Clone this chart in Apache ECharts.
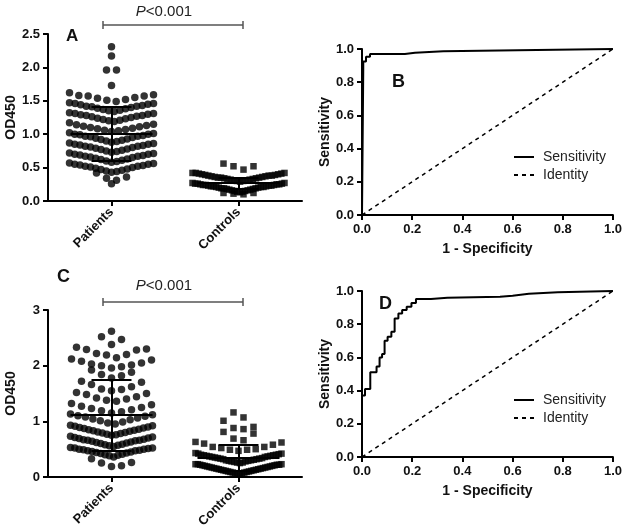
<!DOCTYPE html>
<html>
<head>
<meta charset="utf-8">
<script src="https://cdn.jsdelivr.net/npm/echarts@6/dist/echarts.min.js"></script>
<style>html,body{margin:0;padding:0;background:#fff}#c{width:625px;height:531px}</style>
</head>
<body>
<div id="c"></div>
<script>
// ---------------- DATA ----------------
const groups = ['Patients', 'Controls'];

// Panel A: OD450 values
const aPatients = [
  2.31, 2.17, 1.96, 1.96, 1.73,
  1.49, 1.51, 1.52, 1.54, 1.55, 1.57, 1.57, 1.58, 1.59, 1.62,
  1.34, 1.35, 1.36, 1.37, 1.38, 1.39, 1.40, 1.41, 1.42, 1.42, 1.43, 1.44, 1.45, 1.46, 1.46, 1.47,
  1.19, 1.20, 1.21, 1.22, 1.23, 1.24, 1.25, 1.26, 1.27, 1.28, 1.28, 1.29, 1.30, 1.31, 1.31, 1.32,
  1.04, 1.05, 1.06, 1.07, 1.08, 1.09, 1.10, 1.11, 1.12, 1.13, 1.14, 1.15, 1.17,
  0.88, 0.89, 0.90, 0.91, 0.92, 0.93, 0.94, 0.95, 0.96, 0.97, 0.97, 0.98, 0.99, 1.00, 1.00, 1.01, 1.02,
  0.73, 0.74, 0.75, 0.76, 0.77, 0.78, 0.79, 0.80, 0.81, 0.82, 0.82, 0.83, 0.84, 0.85, 0.85, 0.86, 0.87,
  0.58, 0.59, 0.60, 0.61, 0.62, 0.63, 0.64, 0.65, 0.66, 0.67, 0.67, 0.68, 0.69, 0.70, 0.70, 0.71, 0.72,
  0.43, 0.44, 0.45, 0.46, 0.47, 0.48, 0.49, 0.50, 0.51, 0.52, 0.52, 0.53, 0.54, 0.55, 0.55, 0.56, 0.57,
  0.31, 0.34, 0.36, 0.42, 0.26
];
const aControls = [
  0.47, 0.52, 0.52, 0.56,
  0.29, 0.30, 0.30, 0.31, 0.31, 0.32, 0.32, 0.33, 0.33, 0.34, 0.34, 0.35, 0.35, 0.35, 0.36,
  0.36, 0.37, 0.37, 0.38, 0.38, 0.38, 0.39, 0.39, 0.40, 0.40, 0.41, 0.41, 0.42, 0.42, 0.42,
  0.13, 0.14, 0.14, 0.15, 0.15, 0.16, 0.16, 0.17, 0.17, 0.18, 0.18, 0.19, 0.19, 0.19, 0.20,
  0.20, 0.21, 0.21, 0.21, 0.22, 0.22, 0.22, 0.23, 0.23, 0.23, 0.24, 0.24, 0.24, 0.25, 0.25,
  0.25, 0.26, 0.26, 0.26, 0.27, 0.27,
  0.10, 0.11, 0.12, 0.12
];
const aMean = [1.01, 0.27];
const aSD = [0.40, 0.08];

// Panel C: OD450 values
const cPatients = [
  2.62,
  2.38, 2.47, 2.52,
  2.14, 2.19, 2.20, 2.22, 2.28, 2.29, 2.30, 2.33,
  1.96, 1.98, 2.00, 2.01, 2.03, 2.05, 2.08, 2.10, 2.12,
  1.78, 1.82, 1.84, 1.88, 1.92,
  1.55, 1.57, 1.58, 1.62, 1.66, 1.70, 1.72,
  1.36, 1.38, 1.40, 1.42, 1.44, 1.48, 1.50, 1.52,
  1.15, 1.17, 1.19, 1.21, 1.23, 1.25, 1.27, 1.30, 1.32,
  0.95, 0.97, 0.99, 1.01, 1.03, 1.04, 1.06, 1.08, 1.09, 1.10, 1.12, 1.13,
  0.75, 0.76, 0.77, 0.78, 0.79, 0.80, 0.81, 0.82, 0.83, 0.84, 0.85, 0.86, 0.87, 0.88, 0.89, 0.90, 0.91, 0.92, 0.93,
  0.55, 0.56, 0.57, 0.58, 0.59, 0.60, 0.61, 0.62, 0.63, 0.64, 0.65, 0.66, 0.66, 0.67, 0.68, 0.69, 0.70, 0.71, 0.72, 0.73,
  0.36, 0.38, 0.39, 0.40, 0.41, 0.42, 0.43, 0.44, 0.45, 0.46, 0.47, 0.47, 0.48, 0.49, 0.50, 0.50, 0.51, 0.52, 0.52, 0.53,
  0.19, 0.20, 0.25, 0.26, 0.33
];
const cControls = [
  1.07, 1.16,
  0.86, 0.88, 0.90, 1.01,
  0.66, 0.69, 0.78, 0.81,
  0.47, 0.49, 0.49, 0.50, 0.52, 0.54, 0.54, 0.58, 0.60, 0.62, 0.63,
  0.25, 0.26, 0.26, 0.27, 0.28, 0.28, 0.29, 0.29, 0.30, 0.30, 0.31, 0.32, 0.32, 0.33, 0.33, 0.34,
  0.34, 0.35, 0.36, 0.36, 0.37, 0.37, 0.38, 0.38, 0.39, 0.39, 0.40, 0.40, 0.41, 0.42, 0.42, 0.43,
  0.05, 0.06, 0.06, 0.07, 0.08, 0.08, 0.09, 0.09, 0.10, 0.10, 0.11, 0.11, 0.12, 0.12, 0.13, 0.13,
  0.14, 0.14, 0.15, 0.15, 0.16, 0.16, 0.17, 0.17, 0.18, 0.18, 0.19, 0.19, 0.20, 0.20, 0.21, 0.21,
  0.22, 0.22, 0.22, 0.23, 0.23, 0.23
];
const cMean = [1.11, 0.35];
const cSD = [0.63, 0.23];

// Panel B ROC (step corners)
const bFPR = [0, 0.005, 0.005, 0.016, 0.032, 0.171, 0.211, 0.324, 0.62, 1.0];
const bTPR = [0, 0.878, 0.924, 0.954, 0.970, 0.978, 0.986, 0.993, 1.0, 1.0];
// Panel D ROC (step corners)
const dFPR = [0, 0, 0.012, 0.033, 0.058, 0.070, 0.080, 0.090, 0.102, 0.117, 0.130, 0.145, 0.160, 0.178, 0.197, 0.215, 0.275, 0.340, 0.550, 0.600, 0.665, 0.780, 1.0];
const dTPR = [0, 0.37, 0.41, 0.51, 0.545, 0.60, 0.62, 0.70, 0.725, 0.755, 0.835, 0.865, 0.885, 0.905, 0.928, 0.952, 0.960, 0.965, 0.972, 0.983, 0.993, 1.0, 1.0];
const identity = [[0, 0], [1, 1]];
const legendNames = ['Sensitivity', 'Identity'];

// ---------------- LAYOUT HELPERS ----------------
const FONT = '"Liberation Sans", Arial, Helvetica, sans-serif';
const PX_PER_X = 254 / 2; // px per category unit on the dot-plot panels

// GraphPad-like column scatter: bin values in rows, spread each row from center outward
function swarm(values, center, binOrigin, binWidth, maxHalfPx, maxStepPx) {
  const bins = {};
  values.forEach(v => {
    const k = Math.floor((v - binOrigin) / binWidth + 1e-9);
    (bins[k] = bins[k] || []).push(v);
  });
  const out = [];
  Object.keys(bins).forEach(k => {
    const arr = bins[k].slice().sort((a, b) => a - b);
    const n = arr.length;
    const step = n > 1 ? Math.min(maxStepPx, 2 * maxHalfPx / (n - 1)) : 0;
    arr.forEach((v, i) => {
      let slot;
      if (n % 2 === 1) slot = i === 0 ? 0 : (i % 2 === 1 ? Math.ceil(i / 2) : -Math.ceil(i / 2));
      else { const m = Math.floor(i / 2) + 0.5; slot = i % 2 === 0 ? m : -m; }
      out.push([center + slot * step / PX_PER_X, v]);
    });
  });
  return out;
}

function meanSdLines(means, sds) {
  const meanHalf = 41 / PX_PER_X, capHalf = 20 / PX_PER_X;
  const segs = [];
  means.forEach((m, i) => {
    const c = i + 1, s = sds[i];
    segs.push({ coords: [[c - meanHalf, m], [c + meanHalf, m]] });
    segs.push({ coords: [[c, m - s], [c, m + s]] });
    segs.push({ coords: [[c - capHalf, m + s], [c + capHalf, m + s]] });
    segs.push({ coords: [[c - capHalf, m - s], [c + capHalf, m - s]] });
  });
  return segs;
}

const axisLine = { show: true, lineStyle: { color: '#000', width: 2 } };
const axisTick = { show: true, length: 5, lineStyle: { color: '#000', width: 2 } };
const tickLabel = { color: '#111', fontSize: 13, fontWeight: 'bold', fontFamily: FONT };
const nameStyle = { color: '#111', fontSize: 14, fontWeight: 'bold', fontFamily: FONT };

function catAxis(grid) {
  return {
    type: 'category', gridIndex: grid, data: groups, boundaryGap: true,
    axisLine, axisTick: Object.assign({ alignWithLabel: true }, axisTick),
    axisLabel: Object.assign({ rotate: 45, margin: 9 }, tickLabel),
    splitLine: { show: false }
  };
}
function hiddenX(grid) {
  return { type: 'value', gridIndex: grid, min: 0.5, max: 2.5, show: false, splitLine: { show: false } };
}
function rocX(grid) {
  return {
    type: 'value', gridIndex: grid, min: 0, max: 1, interval: 0.2,
    name: '1 - Specificity', nameLocation: 'middle', nameGap: 27, nameTextStyle: nameStyle,
    axisLine, axisTick, axisLabel: Object.assign({ formatter: v => v.toFixed(1), margin: 8 }, tickLabel),
    splitLine: { show: false }
  };
}
function rocY(grid) {
  return {
    type: 'value', gridIndex: grid, min: 0, max: 1, interval: 0.2,
    name: 'Sensitivity', nameLocation: 'middle', nameGap: 27, nameTextStyle: nameStyle,
    axisLine, axisTick, axisLabel: Object.assign({ formatter: v => v.toFixed(1), margin: 8 }, tickLabel),
    splitLine: { show: false }
  };
}
function legendAt(top) {
  return {
    left: 509, top: top, orient: 'vertical', itemWidth: 20, itemHeight: 2, itemGap: 4,
    data: [
      { name: legendNames[0], icon: 'path://M0,0h20v2h-20z' },
      { name: legendNames[1], icon: 'path://M0,0h4v2h-4zM8,0h4v2h-4zM16,0h4v2h-4z' }
    ],
    textStyle: { fontSize: 14, fontFamily: FONT, color: '#222', padding: [0, 0, 0, 4] }
  };
}

const pairs = (xs, ys) => xs.map((x, i) => [x, ys[i]]);

const option = {
  animation: false,
  backgroundColor: '#fff',
  grid: [
    { left: 48, top: 34, width: 254, height: 167 },
    { left: 362, top: 49, width: 251, height: 166 },
    { left: 48, top: 310, width: 254, height: 167 },
    { left: 362, top: 291, width: 251, height: 166 }
  ],
  xAxis: [catAxis(0), hiddenX(0), rocX(1), catAxis(2), hiddenX(2), rocX(3)],
  yAxis: [
    { type: 'value', gridIndex: 0, min: 0, max: 2.5, interval: 0.5,
      name: 'OD450', nameLocation: 'middle', nameGap: 30, nameTextStyle: nameStyle,
      axisLine, axisTick, axisLabel: Object.assign({ formatter: v => v.toFixed(1), margin: 8 }, tickLabel),
      splitLine: { show: false } },
    rocY(1),
    { type: 'value', gridIndex: 2, min: 0, max: 3, interval: 1,
      name: 'OD450', nameLocation: 'middle', nameGap: 30, nameTextStyle: nameStyle,
      axisLine, axisTick, axisLabel: Object.assign({ margin: 8 }, tickLabel),
      splitLine: { show: false } },
    rocY(3)
  ],
  legend: [legendAt(145), legendAt(388)],
  series: [
    // Panel A
    { type: 'scatter', name: 'A Patients', xAxisIndex: 1, yAxisIndex: 0, symbol: 'circle', symbolSize: 7.5,
      itemStyle: { color: '#000' }, data: swarm(aPatients, 1, 0.43, 0.15, 42, 10) },
    { type: 'scatter', name: 'A Controls', xAxisIndex: 1, yAxisIndex: 0, symbol: 'rect', symbolSize: 6.5,
      itemStyle: { color: '#000' }, data: swarm(aControls, 2, 0.43, 0.15, 46, 10) },
    { type: 'lines', name: 'A mean SD', coordinateSystem: 'cartesian2d', xAxisIndex: 1, yAxisIndex: 0, z: 5,
      lineStyle: { color: '#000', width: 2, opacity: 1 }, data: meanSdLines(aMean, aSD) },
    // Panel C
    { type: 'scatter', name: 'C Patients', xAxisIndex: 4, yAxisIndex: 2, symbol: 'circle', symbolSize: 7.5,
      itemStyle: { color: '#000' }, data: swarm(cPatients, 1, 0.34, 0.2, 41, 10) },
    { type: 'scatter', name: 'C Controls', xAxisIndex: 4, yAxisIndex: 2, symbol: 'rect', symbolSize: 6.5,
      itemStyle: { color: '#000' }, data: swarm(cControls, 2, 0.04, 0.2, 43, 10) },
    { type: 'lines', name: 'C mean SD', coordinateSystem: 'cartesian2d', xAxisIndex: 4, yAxisIndex: 2, z: 5,
      lineStyle: { color: '#000', width: 2, opacity: 1 }, data: meanSdLines(cMean, cSD) },
    // Panel B
    { type: 'line', name: legendNames[0], xAxisIndex: 2, yAxisIndex: 1, step: 'end', symbol: 'none',
      lineStyle: { color: '#000', width: 2 }, itemStyle: { color: '#000' }, data: pairs(bFPR, bTPR) },
    { type: 'line', name: legendNames[1], xAxisIndex: 2, yAxisIndex: 1, symbol: 'none',
      lineStyle: { color: '#000', width: 1.5, type: [4, 4] }, itemStyle: { color: '#000' }, data: identity },
    // Panel D
    { type: 'line', name: legendNames[0], xAxisIndex: 5, yAxisIndex: 3, step: 'end', symbol: 'none',
      lineStyle: { color: '#000', width: 2 }, itemStyle: { color: '#000' }, data: pairs(dFPR, dTPR) },
    { type: 'line', name: legendNames[1], xAxisIndex: 5, yAxisIndex: 3, symbol: 'none',
      lineStyle: { color: '#000', width: 1.5, type: [4, 4] }, itemStyle: { color: '#000' }, data: identity }
  ],
  graphic: [
    // significance brackets
    { type: 'polyline', shape: { points: [[103, 21], [103, 29]] }, style: { stroke: '#555', lineWidth: 1.5 } },
    { type: 'polyline', shape: { points: [[103, 25], [243, 25]] }, style: { stroke: '#555', lineWidth: 1.5 } },
    { type: 'polyline', shape: { points: [[243, 21], [243, 29]] }, style: { stroke: '#555', lineWidth: 1.5 } },
    { type: 'text', x: 164, y: 12, style: { text: '{i|P}<0.001', rich: { i: { fontStyle: 'italic', fontSize: 15, fontFamily: FONT, fill: '#222' } },
      fontSize: 15, fontFamily: FONT, fill: '#222', align: 'center', verticalAlign: 'middle' } },
    { type: 'polyline', shape: { points: [[103, 298], [103, 306]] }, style: { stroke: '#555', lineWidth: 1.5 } },
    { type: 'polyline', shape: { points: [[103, 302], [243, 302]] }, style: { stroke: '#555', lineWidth: 1.5 } },
    { type: 'polyline', shape: { points: [[243, 298], [243, 306]] }, style: { stroke: '#555', lineWidth: 1.5 } },
    { type: 'text', x: 164, y: 286, style: { text: '{i|P}<0.001', rich: { i: { fontStyle: 'italic', fontSize: 15, fontFamily: FONT, fill: '#222' } },
      fontSize: 15, fontFamily: FONT, fill: '#222', align: 'center', verticalAlign: 'middle' } },
    // panel letters
    { type: 'text', x: 66, y: 28, style: { text: 'A', fontSize: 17, fontWeight: 'bold', fontFamily: FONT, fill: '#111' } },
    { type: 'text', x: 392, y: 73, style: { text: 'B', fontSize: 18, fontWeight: 'bold', fontFamily: FONT, fill: '#111' } },
    { type: 'text', x: 57, y: 268, style: { text: 'C', fontSize: 18, fontWeight: 'bold', fontFamily: FONT, fill: '#111' } },
    { type: 'text', x: 379, y: 295, style: { text: 'D', fontSize: 18, fontWeight: 'bold', fontFamily: FONT, fill: '#111' } }
  ]
};

const chart = echarts.init(document.getElementById('c'), null, { renderer: 'canvas' });
chart.setOption(option);
</script>
</body>
</html>
